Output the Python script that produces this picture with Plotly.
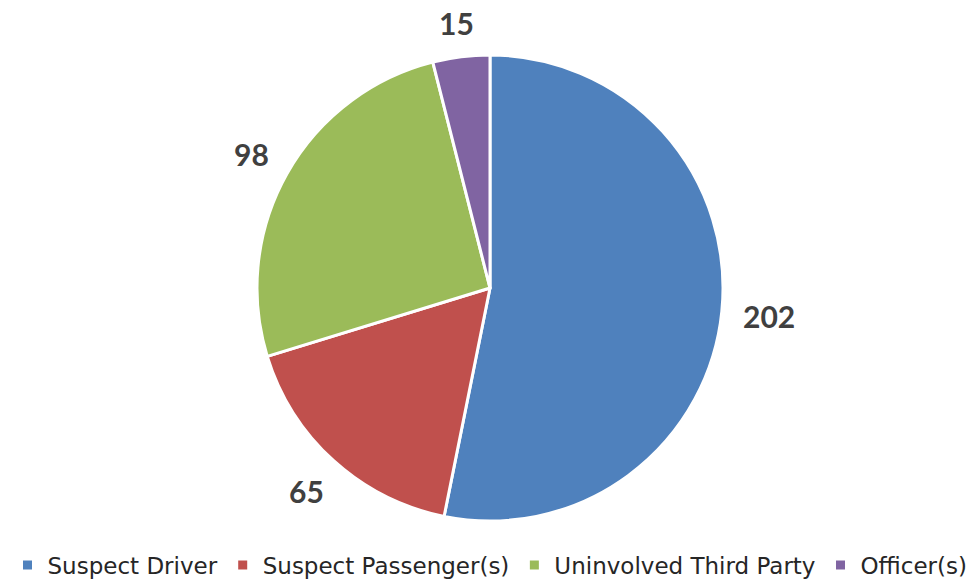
import math
import plotly.graph_objects as go

categories = ["Suspect Driver", "Suspect Passenger(s)", "Uninvolved Third Party", "Officer(s)"]
values = [202, 65, 98, 15]
colors = ["#4F81BD", "#C0504D", "#9BBB59", "#8064A2"]

# page offset of the figure div (body margin) is compensated in the layout
W, H = 980, 579
off = 8
mt = 55 - off
mb = H - (521 - off)
ph = H - mt - mb
R = ph / 2
cx = 490 - off
dom_w = 2 * cx / W

fig = go.Figure(go.Pie(
    labels=categories, values=values, sort=False, direction="clockwise",
    rotation=0, marker=dict(colors=colors, line=dict(color="white", width=3)),
    textinfo="none", hoverinfo="label+value", showlegend=True,
    domain=dict(x=[0, dom_w], y=[0, 1]),
))

total = sum(values)
cum = 0
annotations = []
gap = 20
half_h = 12
for v in values:
    mid = (cum + v / 2) / total * 360
    cum += v
    ang = math.radians(90 - mid)
    c, s = math.cos(ang), math.sin(ang)
    half_w = 8.7 * len(str(v))
    r = R + gap + abs(c) * half_w + abs(s) * half_h
    x = (cx + r * c) / W
    y = 0.5 + r * s / ph
    annotations.append(dict(x=x, y=y, xref="paper", yref="paper", text=str(v),
                            showarrow=False, xanchor="center", yanchor="middle",
                            height=28, valign="middle", borderpad=0,
                            font=dict(family="Lato", size=30, color="#404040", weight="bold")))

fig.update_layout(
    width=W, height=H, margin=dict(l=0, r=0, t=mt, b=mb, autoexpand=False),
    paper_bgcolor="white", plot_bgcolor="white",
    annotations=annotations,
    legend=dict(orientation="h", x=(490 - off) / W, xanchor="center",
                y=-(565 - off - (521 - off)) / ph, yanchor="middle",
                font=dict(family="DejaVu Sans", size=23, color="#262626"),
                traceorder="normal", itemwidth=30),
)
fig.write_html("out.html")
